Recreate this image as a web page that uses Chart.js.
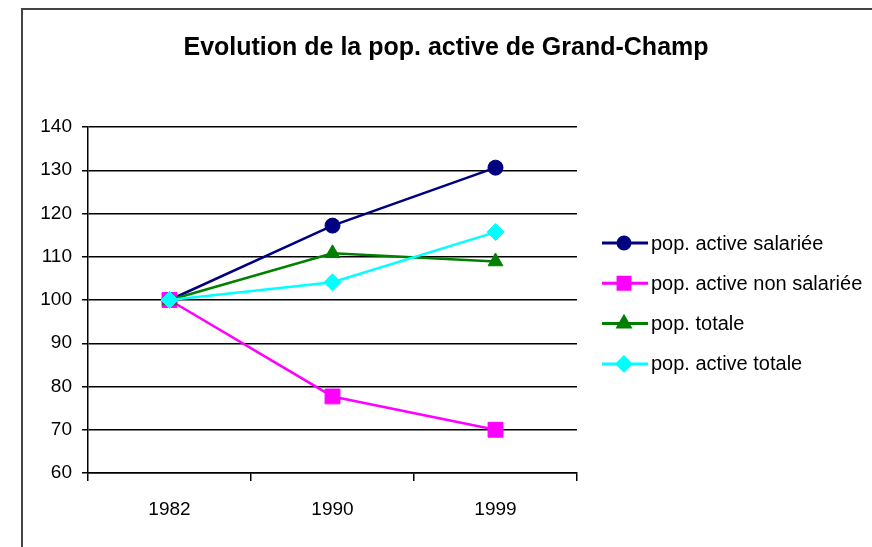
<!DOCTYPE html>
<html>
<head>
<meta charset="utf-8">
<script src="https://cdn.jsdelivr.net/npm/chart.js@4"></script>
<style>
  html, body { margin: 0; padding: 0; background: #fff; }
  #wrap { width: 872px; height: 547px; position: relative; }
</style>
</head>
<body>
<div id="wrap"><canvas id="chart" width="872" height="547"></canvas></div>
<script>
// values
const years = ["1982", "1990", "1999"]
const salariee = [100, 117.2, 130.6]
const nonSalariee = [100, 77.7, 70]
const popTotale = [100, 110.8, 108.9]
const activeTotale = [100, 104.1, 115.7]
const yTicks = { min: 60, max: 140, step: 10 }

const titleText = "Evolution de la pop. active de Grand-Champ"
const sans = "'Liberation Sans', Arial, sans-serif"

// title, frame and excel-like legend (line + marker)
const decor = {
  id: "decor",
  afterDraw(chart) {
    const ctx = chart.ctx
    ctx.save()
    ctx.strokeStyle = "#444"
    ctx.lineWidth = 2
    ctx.strokeRect(22, 9, 900, 600)

    ctx.fillStyle = "#000"
    ctx.font = "bold 25px " + sans
    ctx.textAlign = "center"
    ctx.textBaseline = "middle"
    ctx.fillText(titleText, 446, 48)

    ctx.font = "20px " + sans
    ctx.textAlign = "left"
    chart.data.datasets.forEach((ds, i) => {
      const y = 243 + i * 40.3
      ctx.strokeStyle = ds.borderColor
      ctx.lineWidth = 3
      ctx.beginPath()
      ctx.moveTo(602, y)
      ctx.lineTo(648, y)
      ctx.stroke()
      Chart.helpers.drawPoint(ctx, {
        pointStyle: ds.pointStyle,
        radius: ds.pointRadius * 0.8,
        borderWidth: 1,
      }, 624, y)
      ctx.fillStyle = ds.borderColor
      ctx.fill()
      ctx.fillStyle = "#000"
      ctx.fillText(ds.label, 651, y + 1)
    })
    ctx.restore()
  },
}

function series(label, data, color, style, radius, order) {
  return {
    label,
    data,
    borderColor: color,
    backgroundColor: color,
    pointBackgroundColor: color,
    pointBorderColor: color,
    pointStyle: style,
    pointRadius: radius,
    pointBorderWidth: 1,
    borderWidth: 2.5,
    tension: 0,
    order,
  }
}

new Chart(document.getElementById("chart"), {
  type: "line",
  data: {
    labels: years,
    datasets: [
      series("pop. active salariée", salariee, "#000080", "circle", 7.5, 3),
      series("pop. active non salariée", nonSalariee, "#ff00ff", "rect", 10.5, 2),
      series("pop. totale", popTotale, "#008000", "triangle", 8.5, 1),
      series("pop. active totale", activeTotale, "#00ffff", "rectRot", 8.5, 0),
    ],
  },
  options: {
    responsive: false,
    animation: false,
    layout: { padding: { top: 127, right: 295, left: 0, bottom: 14 } },
    plugins: { legend: { display: false }, title: { display: false }, tooltip: { enabled: false } },
    scales: {
      x: {
        offset: true,
        grid: { drawOnChartArea: false, drawTicks: true, tickLength: 8, color: "#000", lineWidth: 1.5, offset: true },
        border: { display: true, color: "#000", width: 1.5 },
        ticks: { color: "#000", padding: 17, font: { family: sans, size: 19 } },
        afterFit(s) { s.height = 60 },
      },
      y: {
        min: yTicks.min,
        max: yTicks.max,
        grid: { color: "#000", lineWidth: 1.5, tickLength: 6 },
        border: { display: true, color: "#000", width: 1.5 },
        ticks: { stepSize: yTicks.step, color: "#000", padding: 10, font: { family: sans, size: 19 } },
        afterFit(s) { s.width = 88 },
      },
    },
  },
  plugins: [decor],
})
</script>
</body>
</html>
